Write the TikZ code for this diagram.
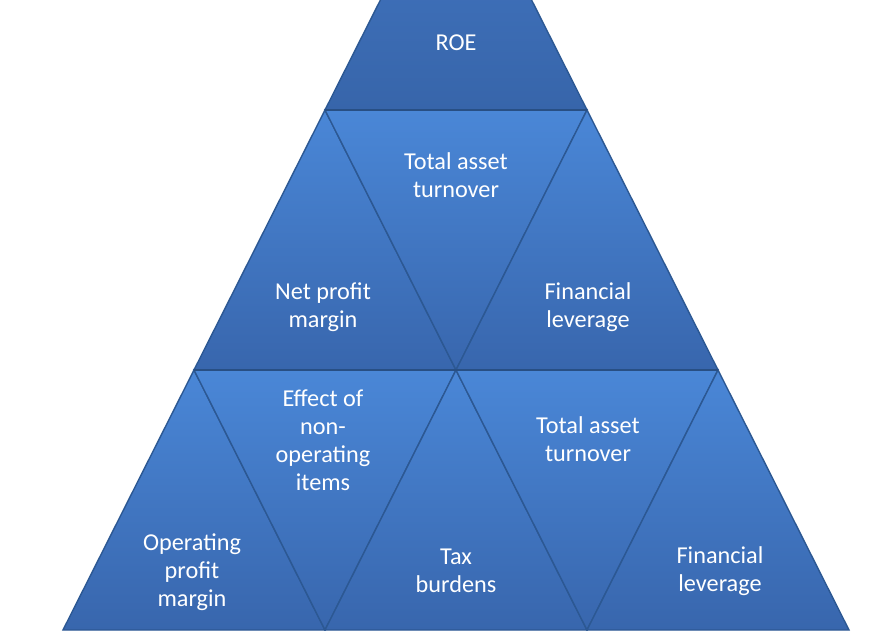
\documentclass[tikz,border=0pt]{standalone}
\usepackage{fontspec}
\setmainfont{Carlito}
\usetikzlibrary{positioning}
\definecolor{tritop}{HTML}{4A87D7}
\definecolor{tribot}{HTML}{3866AD}
\definecolor{roetop}{HTML}{4479C6}
\definecolor{roebot}{HTML}{3765AA}
\definecolor{tedge}{HTML}{2C5893}
\tikzset{
  tri/.style={
    draw=tedge, line width=0.8pt, line join=miter,
    top color=tritop, bottom color=tribot},
  roetri/.style={tri, top color=roetop, bottom color=roebot},
  rowline/.style={draw=tedge!90!black, line width=1.4pt},
  lbl/.style={
    text=white, align=center, inner sep=0pt,
    font=\fontsize{13.8}{15.9}\selectfont},
}

\begin{document}
\begin{tikzpicture}[x=0.02cm, y=-0.02cm]

  \useasboundingbox (0,0) rectangle (890,630);
  \fill[white] (0,0) rectangle (890,630);
  \clip (0,0) rectangle (890,630);

  % corners of the pyramid, row by row
  \coordinate (a)  at (456,-150);
  \coordinate (b1) at (325,110);
  \coordinate (b2) at (587,110);
  \coordinate (c1) at (194,370);
  \coordinate (c2) at (456,370);
  \coordinate (c3) at (718,370);
  \coordinate (d1) at (63,630);
  \coordinate (d2) at (325,630);
  \coordinate (d3) at (587,630);
  \coordinate (d4) at (849,630);

  % top
  \path[roetri] (a) -- (b1) -- (b2) -- cycle;
  % middle row
  \path[tri] (b1) -- (c1) -- (c2) -- cycle;
  \path[tri] (b1) -- (b2) -- (c2) -- cycle;
  \path[tri] (b2) -- (c2) -- (c3) -- cycle;
  % bottom row
  \path[tri] (c1) -- (d1) -- (d2) -- cycle;
  \path[tri] (c1) -- (c2) -- (d2) -- cycle;
  \path[tri] (c2) -- (d2) -- (d3) -- cycle;
  \path[tri] (c2) -- (c3) -- (d3) -- cycle;
  \path[tri] (c3) -- (d3) -- (d4) -- cycle;

  % darker seams between the rows
  \draw[rowline] (b1) -- (b2);
  \draw[rowline] (c1) -- (c3);

  \node[lbl] (roe)  at (456,43)  {ROE};
  \node[lbl] (tat1) at (456,175) {Total asset\\turnover};
  \node[lbl] (npm)  at (323,307) {Net profit\\margin};
  \node[lbl] (fl1)  at (588,307) {Financial\\leverage};
  \node[lbl] (eff)  at (323,440) {Effect of\\non-\\operating\\items};
  \node[lbl] (opm)  at (192,572) {Operating\\profit\\margin};
  \node[lbl] (tax)  at (456,571) {Tax\\burdens};
  \node[lbl] (tat2) at (588,439) {Total asset\\turnover};
  \node[lbl] (fl2)  at (720,571) {Financial\\leverage};

\end{tikzpicture}
\end{document}
